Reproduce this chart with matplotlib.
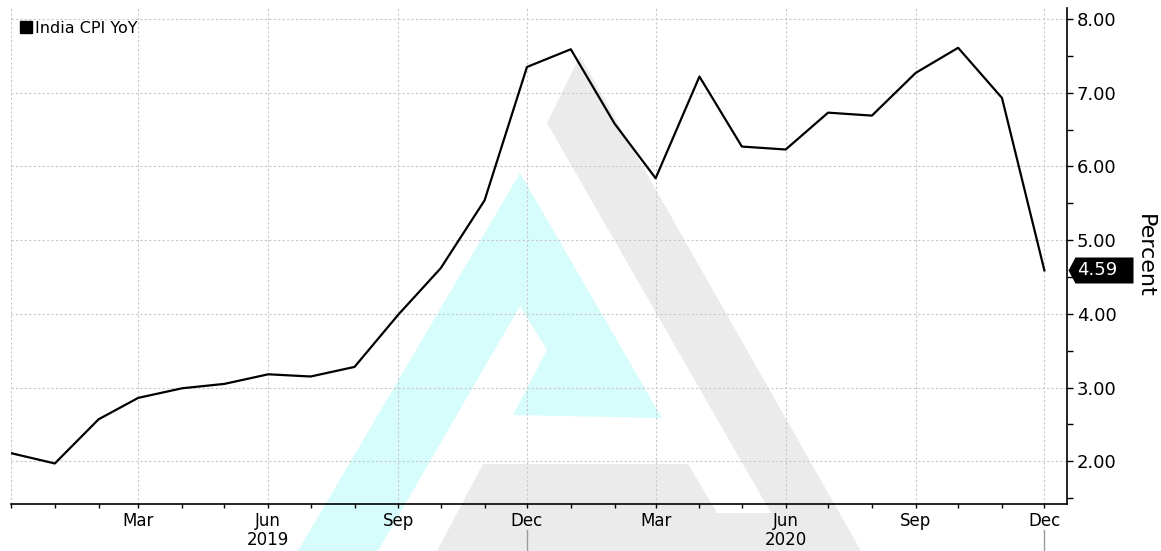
import matplotlib

matplotlib.use("Agg")
import matplotlib.pyplot as plt
import matplotlib.dates as mdates
import matplotlib.ticker as mticker
import matplotlib.transforms as mtransforms
from matplotlib.lines import Line2D
from matplotlib.patches import Polygon
import pandas as pd

# India CPI YoY, monthly, Dec 2018 .. Dec 2020
months = pd.date_range("2018-12-01", "2020-12-01", freq="MS")
cpi_yoy = [2.11, 1.97, 2.57, 2.86, 2.99, 3.05, 3.18, 3.15, 3.28, 3.99, 4.62, 5.54, 7.35,
           7.59, 6.58, 5.84, 7.22, 6.27, 6.23, 6.73, 6.69, 7.27, 7.61, 6.93, 4.59]
series_name = "India CPI YoY"
y_ticks = [2, 3, 4, 5, 6, 7, 8]
years = ["2019", "2020"]
year_centers = pd.to_datetime(["2019-06-01", "2020-06-01"])
year_breaks = pd.to_datetime(["2019-12-01", "2020-12-01"])

W, H = 1161, 551
GRID = "#c8c8c8"
CYAN = "#d6fcfc"
GREY = "#ebebeb"

fig = plt.figure(figsize=(W / 100, H / 100), dpi=100)
fig.patch.set_facecolor("white")

# background logo watermark (pixel outlines, top-left origin)
cyan_px = [(298, 551), (520, 173), (662, 418), (513, 415), (547, 350), (520, 306), (378, 551)]
grey_px = [(437, 551), (483, 464), (688, 464), (717, 513), (771, 513), (547, 123),
           (580, 56), (861, 551)]
for pts, col in ((cyan_px, CYAN), (grey_px, GREY)):
    fig.add_artist(Polygon([(x / W, 1 - y / H) for x, y in pts], closed=True,
                           transform=fig.transFigure, facecolor=col, edgecolor="none",
                           zorder=-1))

left, right, top, bottom = 11, 1067, 8, 504
ax = fig.add_axes([left / W, 1 - bottom / H, (right - left) / W, (bottom - top) / H])
ax.patch.set_alpha(0)

ax.plot(months, cpi_yoy, color="black", lw=1.6, zorder=3)

ax.set_xlim(months[0], months[-1] + pd.Timedelta(days=16))
ax.set_ylim(1.42, 8.15)


def month_label(x, pos):
    d = mdates.num2date(x)
    if d.year < 2019:
        return ""
    return d.strftime("%b")


ax.xaxis.set_major_locator(mdates.MonthLocator(bymonth=[3, 6, 9, 12]))
ax.xaxis.set_major_formatter(mticker.FuncFormatter(month_label))
ax.xaxis.set_minor_locator(mdates.MonthLocator())
ax.yaxis.tick_right()
ax.yaxis.set_label_position("right")
ax.set_yticks(y_ticks)
ax.set_yticklabels([f"{v:.2f}" for v in y_ticks])
ax.set_yticks([v + 0.5 for v in range(1, 8)], minor=True)

ax.tick_params(axis="x", which="both", direction="out", length=3, width=1, pad=3,
               labelsize=12, color="black")
ax.tick_params(axis="y", which="both", direction="out", length=4, width=1, pad=3,
               labelsize=13, color="black")

for side in ("top", "left"):
    ax.spines[side].set_visible(False)
for side in ("bottom", "right"):
    ax.spines[side].set_color("black")
    ax.spines[side].set_linewidth(1.2)

ax.grid(True, which="major", color=GRID, ls=(0, (2, 2)), lw=0.8)
ax.set_axisbelow(True)

ax.set_ylabel("Percent", rotation=-90, fontsize=16, labelpad=28)

# year labels and separators under the month axis
xfm = ax.get_xaxis_transform()
for yr, xc in zip(years, year_centers):
    ax.text(xc, -0.073, yr, transform=xfm, ha="center", va="center", fontsize=12)
for xb in year_breaks:
    ax.plot([xb, xb], [-0.052, -0.095], transform=xfm, color="#9a9a9a", lw=1,
            clip_on=False)

# last value tag (pentagon pointing at the axis)
last = cpi_yoy[-1]
tag_shape = [(0, 0), (7, 13), (65, 13), (65, -13), (7, -13)]
tag_tf = mtransforms.offset_copy(ax.get_yaxis_transform(), fig=fig, x=1, y=0, units="dots")
ax.plot([1.0], [last], transform=tag_tf, marker=tag_shape, markersize=2 * 65 * 0.72,
        color="black", markeredgewidth=0, clip_on=False, zorder=5)
text_tf = mtransforms.offset_copy(ax.get_yaxis_transform(), fig=fig, x=10, y=0, units="dots")
ax.text(1.0, last, f"{last:.2f}", transform=text_tf, ha="left", va="center",
        color="white", fontsize=13, zorder=6)

handle = Line2D([], [], marker="s", color="black", ls="none", markersize=8)
ax.legend([handle], [series_name], loc="upper left",
          bbox_to_anchor=(2 / 1056, 1 - 5 / 496),
          frameon=False, fontsize=11.5, handlelength=0.6, handletextpad=0.25,
          borderaxespad=0.3, borderpad=0.2)

fig.savefig("out.png", dpi=100)
